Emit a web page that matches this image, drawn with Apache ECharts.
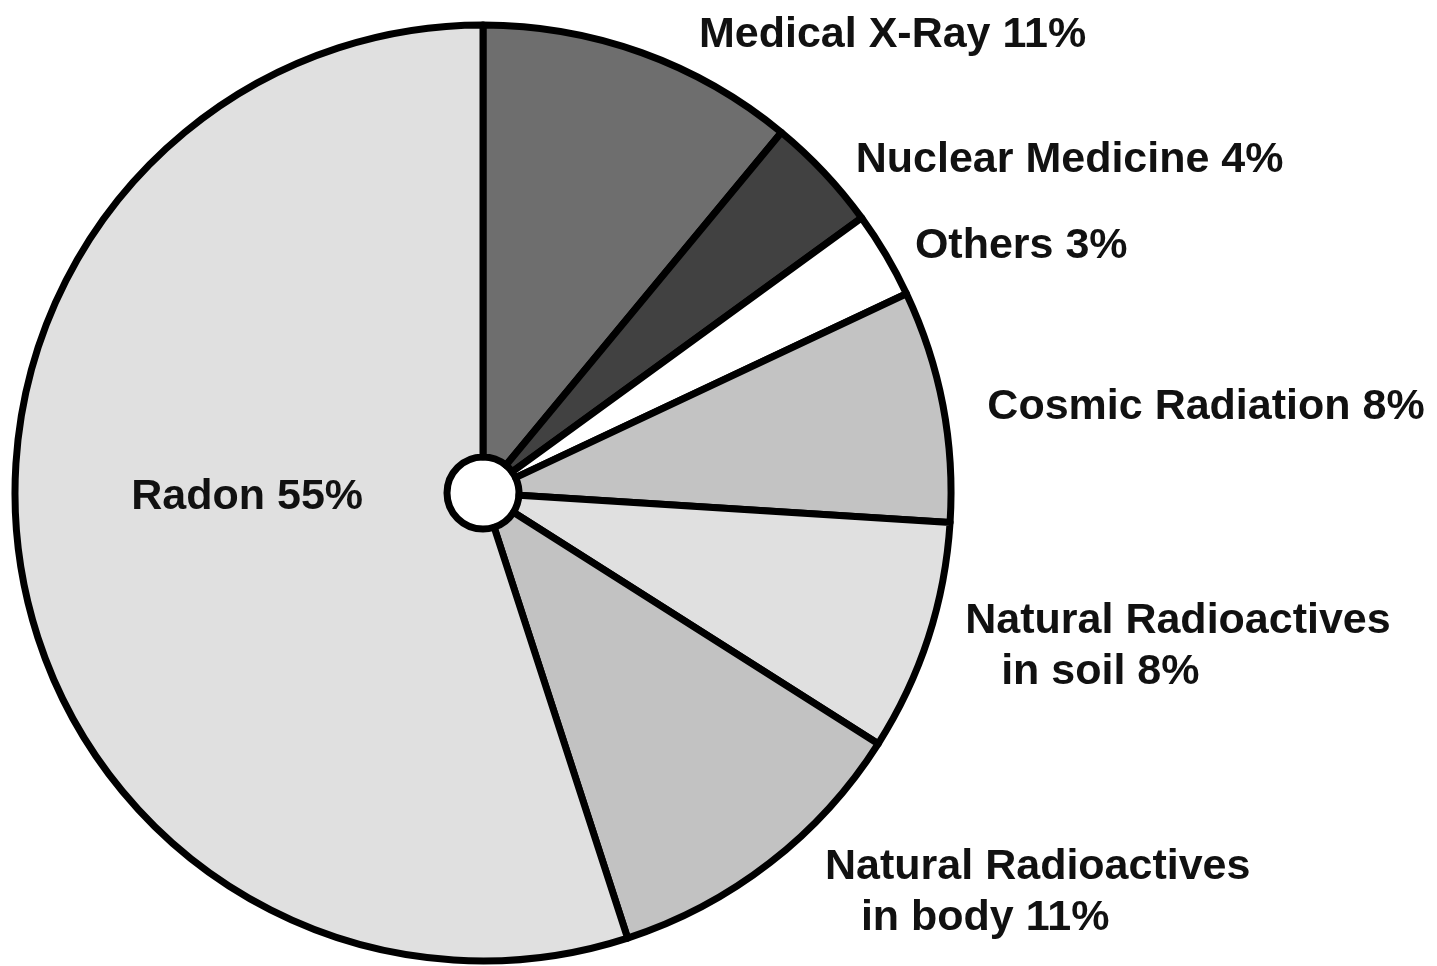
<!DOCTYPE html>
<html>
<head>
<meta charset="utf-8">
<script src="https://cdn.jsdelivr.net/npm/echarts@6/dist/echarts.min.js"></script>
<style>
html,body{margin:0;padding:0;background:#fff;}
#chart{width:1437px;height:966px;}
</style>
</head>
<body>
<div id="chart"></div>
<script>
const categories = ['Medical X-Ray', 'Nuclear Medicine', 'Others', 'Cosmic Radiation',
  'Natural Radioactives\n   in soil', 'Natural Radioactives\n   in body', 'Radon'];
const values = [11, 4, 3, 8, 8, 11, 55];

// styling (kept separate from data)
const colors = ['#6e6e6e', '#414141', '#ffffff', '#c3c3c3', '#e0e0e0', '#c2c2c2', '#e0e0e0'];
const lineLen = [19, 20, 21, 20, 16, 33, 0];
const lineLen2 = [46, 12, 6, 20, 17, 30, 0];
const labelOffsets = [[0, 0], [0, 1], [0, 2], [0, 6], [0, 4], [0, 4], [16, -36]];

const data = categories.map((name, i) => {
  const item = {
    name: name,
    value: values[i],
    itemStyle: { color: colors[i] },
    labelLine: { show: false, length: lineLen[i], length2: lineLen2[i] },
    label: { offset: labelOffsets[i] }
  };
  if (name === 'Radon') {
    item.label.position = 'inside';
  }
  return item;
});

const chart = echarts.init(document.getElementById('chart'));
chart.setOption({
  backgroundColor: '#ffffff',
  animation: false,
  series: [{
    type: 'pie',
    center: [483, 493],
    radius: [36, 468],
    startAngle: 90,
    clockwise: true,
    avoidLabelOverlap: false,
    itemStyle: { borderColor: '#000000', borderWidth: 7 },
    label: {
      show: true,
      position: 'outside',
      distanceToLabelLine: 5,
      formatter: p => p.name + ' ' + p.value + '%',
      fontFamily: 'Liberation Sans, Arial, sans-serif',
      fontWeight: 'bold',
      fontSize: 43,
      lineHeight: 51,
      color: '#111111'
    },
    labelLine: { show: false },
    emphasis: { disabled: true },
    data: data
  }]
});
</script>
</body>
</html>
